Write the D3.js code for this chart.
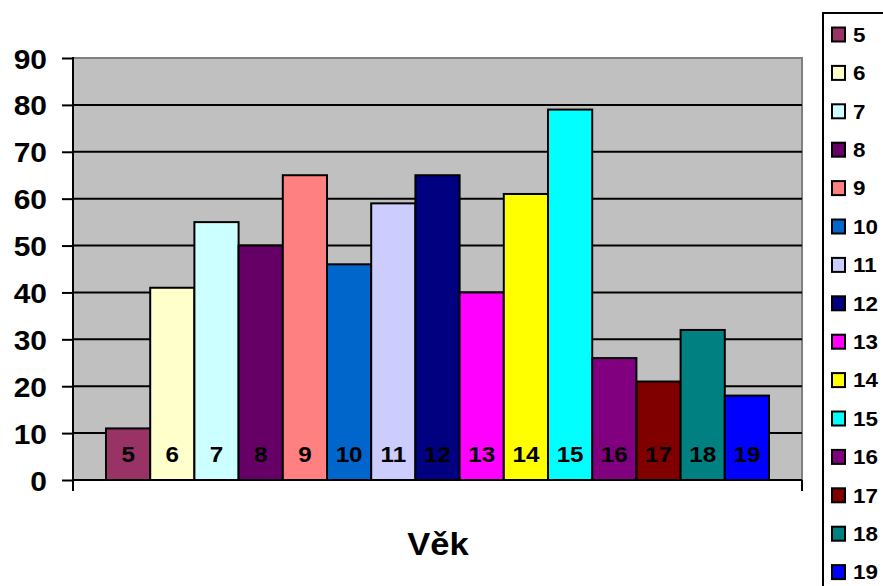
<!DOCTYPE html>
<html><head><meta charset="utf-8">
<script src="https://cdn.jsdelivr.net/npm/d3@7"></script>
<style>body{margin:0;background:#fff}svg{display:block;font-family:Arial,"Liberation Sans",sans-serif;font-weight:bold}</style>
</head><body><svg id="c" width="883" height="586"></svg>
<script>
const categories = ["5","6","7","8","9","10","11","12","13","14","15","16","17","18","19"];
const values = [11,41,55,50,65,46,59,65,40,61,79,26,21,32,18];
const colors = ["#993366","#FFFFCC","#CCFFFF","#660066","#FF8080","#0066CC","#CCCCFF","#000080","#FF00FF","#FFFF00","#00FFFF","#800080","#800000","#008080","#0000FF"];
const yTicks = [0,10,20,30,40,50,60,70,80,90];
const axisTitle = "Věk";

const svg = d3.select("#c");
const L = 73, R = 802, T = 58, B = 480;
const y = d3.scaleLinear().domain([0,90]).range([B,T]);
const x = d3.scaleBand().domain(categories).range([106,769]).padding(0);

svg.append("rect").attr("x",L).attr("y",T).attr("width",R-L).attr("height",B-T).attr("fill","#C0C0C0");
svg.append("path").attr("d",`M${L},${T}H${R}V${B}`).attr("fill","none").attr("stroke","#808080").attr("stroke-width",2);

// gridlines
svg.append("g").selectAll("line").data(yTicks.filter(d=>d>0&&d<90)).join("line")
  .attr("x1",L).attr("x2",R).attr("y1",d=>y(d)).attr("y2",d=>y(d)).attr("stroke","#000").attr("stroke-width",2);

// bars
svg.append("g").selectAll("rect").data(values).join("rect")
  .attr("x",(d,i)=>x(categories[i])).attr("width",x.bandwidth())
  .attr("y",d=>y(d)).attr("height",d=>B-y(d))
  .attr("fill",(d,i)=>colors[i]).attr("stroke","#000").attr("stroke-width",2);

svg.append("g").selectAll("text").data(categories).join("text")
  .attr("transform",d=>`translate(${x(d)+x.bandwidth()/2},462) scale(1.1,1)`)
  .attr("text-anchor","middle")
  .attr("font-size",22).attr("fill","#000").text(d=>d);

// y axis
const yAxis = d3.axisLeft(y).tickValues(yTicks).tickSize(11).tickPadding(14);
const ga = svg.append("g").attr("transform",`translate(${L},0)`).call(yAxis);
ga.select(".domain").remove();
ga.selectAll(".tick line").attr("stroke","#000").attr("stroke-width",2);
ga.selectAll(".tick text").attr("x",null).attr("transform","translate(-26,0) scale(1.07,1)")
  .attr("font-size",28).attr("font-weight","bold").attr("font-family","Arial, 'Liberation Sans', sans-serif").attr("fill","#000").attr("dy","0.36em");
svg.append("line").attr("x1",L).attr("x2",L).attr("y1",T-1).attr("y2",491).attr("stroke","#000").attr("stroke-width",2);
svg.append("line").attr("x1",L).attr("x2",R).attr("y1",B).attr("y2",B).attr("stroke","#000").attr("stroke-width",2);
svg.append("line").attr("x1",R).attr("x2",R).attr("y1",B).attr("y2",491).attr("stroke","#000").attr("stroke-width",2);

svg.append("text").attr("transform","translate(438,555) scale(1.08,1)").attr("text-anchor","middle").attr("font-size",32).text(axisTitle);

// legend
svg.append("path").attr("d","M823,586V13H884").attr("fill","none").attr("stroke","#000").attr("stroke-width",2);
const lg = svg.append("g").selectAll("g").data(categories).join("g")
  .attr("transform",(d,i)=>`translate(832,${34.5+i*38.4})`);
lg.append("rect").attr("x",0).attr("y",-7).attr("width",13).attr("height",14)
  .attr("fill",(d,i)=>colors[i]).attr("stroke","#000").attr("stroke-width",2);
lg.append("text").attr("transform","translate(21,0) scale(1.12,1)").attr("dy","0.36em").attr("font-size",20).text(d=>d);
</script></body></html>
